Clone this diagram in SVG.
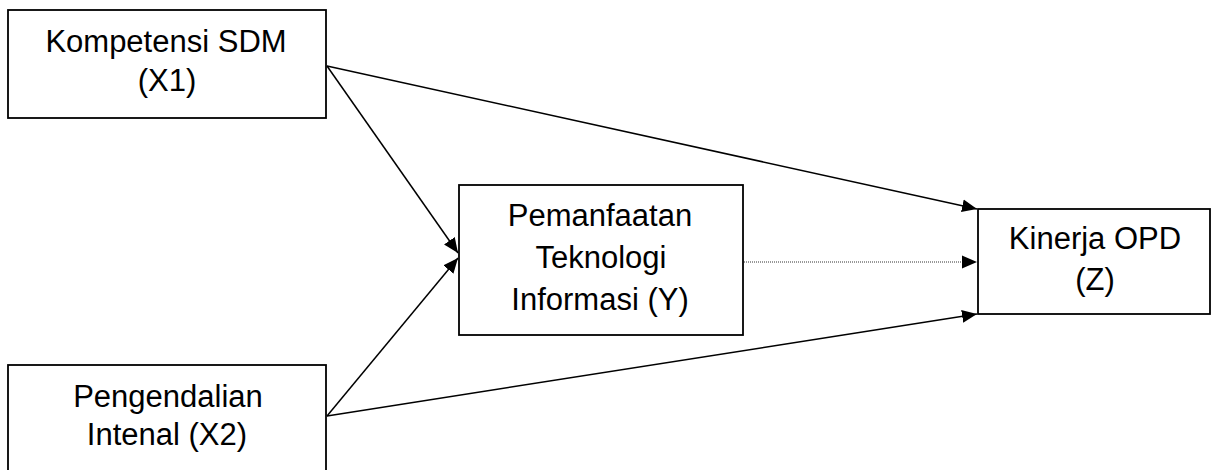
<svg xmlns="http://www.w3.org/2000/svg" width="1214" height="470" viewBox="0 0 1214 470">
<style>
.box{fill:#fff;stroke:#000;stroke-width:1.8}
.t{font-family:"Liberation Sans",Arial,sans-serif;font-size:31px;fill:#000;text-anchor:middle}
.ln{stroke:#000;stroke-width:1.5;fill:none}
.dot{stroke:#333;stroke-width:1;stroke-dasharray:1 1;fill:none}
</style>
<defs>
<marker id="ah" markerUnits="userSpaceOnUse" markerWidth="16" markerHeight="14" refX="15" refY="7" orient="auto">
<path d="M0,0.5 L15,7 L0,13.5 z" fill="#000"/>
</marker>
</defs>
<g id="connectors">
<line class="ln" x1="327" y1="66" x2="977" y2="209" marker-end="url(#ah)"/>
<line class="ln" x1="327" y1="66" x2="458" y2="253" marker-end="url(#ah)"/>
<line class="ln" x1="327" y1="416" x2="458" y2="258" marker-end="url(#ah)"/>
<line class="ln" x1="327" y1="416" x2="977" y2="314" marker-end="url(#ah)"/>
<line class="dot" x1="744" y1="262" x2="963" y2="262"/>
<path d="M962,255.5 L977,262 L962,268.5 z" fill="#000"/>
</g>
<g id="x1">
<rect class="box" x="8" y="10" width="318" height="108"/>
<text class="t" x="166" y="52">Kompetensi SDM</text>
<text class="t" x="167" y="91">(X1)</text>
</g>
<g id="x2">
<rect class="box" x="8" y="365" width="318" height="110"/>
<text class="t" x="168" y="407">Pengendalian</text>
<text class="t" x="167" y="445">Intenal (X2)</text>
</g>
<g id="y">
<rect class="box" x="459" y="185" width="284" height="150"/>
<text class="t" x="600" y="226">Pemanfaatan</text>
<text class="t" x="601" y="268">Teknologi</text>
<text class="t" x="600" y="310">Informasi (Y)</text>
</g>
<g id="z">
<rect class="box" x="978" y="209" width="232" height="105"/>
<text class="t" x="1095" y="249">Kinerja OPD</text>
<text class="t" x="1095" y="290">(Z)</text>
</g>
</svg>
